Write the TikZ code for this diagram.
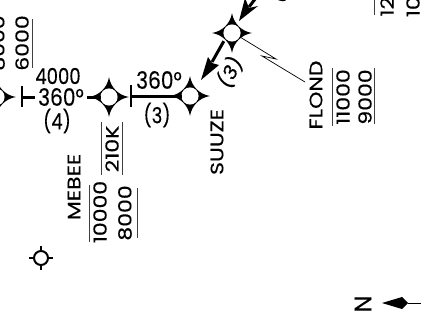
\documentclass[tikz,border=0pt]{standalone}
\usepackage{fontspec}
\newfontfamily\labfont{Poppins}[FakeBold=0.3]
\newcommand{\wpstar}[2]{%
  \begin{scope}[shift={(#1)}]
  \fill[black] (20,0) .. controls (9.5,1.7) and (1.7,9.5) .. (0,20) .. controls (-1.7,9.5) and (-9.5,1.7) .. (-20,0) .. controls (-9.5,-1.7) and (-1.7,-9.5) .. (0,-20) .. controls (1.7,-9.5) and (9.5,-1.7) .. (20,0) -- cycle;
  \fill[white] (0,0) circle (8.6);
  \end{scope}
  \node[inner sep=0pt,minimum size=16pt] (#2) at (#1) {};}
\tikzset{
  lab/.style={inner sep=0pt,font=\labfont\fontsize{22}{22}\selectfont,transform shape,xscale=.82},
  big/.style={inner sep=0pt,font=\labfont\fontsize{24}{24}\selectfont,transform shape,xscale=.84},
  labv/.style={lab,rotate=90},
  thin rule/.style={line width=0.8pt,draw=black!75},
  leg/.style={line width=3pt},
  tick/.style={line width=1.5pt},
  fixring/.style={line width=2pt}
}
\begin{document}
\begin{tikzpicture}[x=1pt,y=-1pt]
\useasboundingbox (0,0) rectangle (421,324);
\begin{scope}
\clip (0,0) rectangle (421,324);
% legs
\draw[tick] (22,86) -- (22,107);
\draw[tick] (131,85) -- (131,107);
\coordinate (legA) at (22,97);
\coordinate (legB) at (35,97);
\coordinate (legC) at (131,96);
\draw[leg] (legA) -- (legB);
\wpstar{-4,97}{w0}
\wpstar{109,97}{mebee}
\wpstar{190,96}{suuze}
\wpstar{232,33}{flond}
\draw[leg] (mebee.west) ++(-14,0) -- (mebee.west);
\draw[leg] (legC) -- (suuze.west);
% track arrows
\coordinate (tipA) at (201,80);
\coordinate (tipB) at (239,21);
\coordinate (topEnd) at (268,-18);
\draw[line width=3pt] (flond.south west) -- (212,62);
\fill (tipA) -- (208,57) -- (212,63) -- (219,65) -- cycle;
\draw[line width=3pt] (topEnd) -- (249,7);
\fill (tipB) -- (245,-2) -- (249,8) -- (258,6) -- cycle;
% leader
\coordinate (fl) at (305,82);
\draw[line width=0.7pt] (flond) ++(8,4) -- (276,59) -- (262,56) -- (fl);
% labels
\node[lab] (a1) at (58,76) {4000};
\node[big] (a2) at (61,97) {360°};
\node[lab] (a3) at (57,121) {(4)};
\node[big] (b1) at (159,80) {360°};
\node[lab] (b2) at (157,115) {(3)};
\node[lab,rotate=57] (c1) at (230,72) {(3)};
\node[lab,rotate=57] (c2) at (281,-14) {(3)};
\node[labv] at (22,43) {6000};
\node[labv] at (-2,43) {8000};
\draw[thin rule] (32,19) -- (32,68);
\node[labv] at (112,149) {210K};
\draw[thin rule] (101,122) -- (101,175);
\draw[thin rule] (122,122) -- (122,175);
\node[labv] at (217,142) {SUUZE};
\node[labv] at (74,187) {MEBEE};
\node[labv] at (100,212) {10000};
\node[labv] at (125,213) {8000};
\draw[thin rule] (89,185) -- (89,242);
\draw[thin rule] (137,188) -- (137,238);
\node[labv] at (316,95) {FLOND};
\node[labv] at (343,97) {11000};
\node[labv] at (365,97) {9000};
\draw[thin rule] (332,68) -- (332,126);
\draw[thin rule] (374,68) -- (374,124);
\node[labv] at (387,-14) {12000};
\node[labv] at (413,-14) {10000};
\draw[thin rule] (374,-30) -- (374,15);
% fix symbol
\draw[fixring] (41,258) circle (7);
\draw[fixring] (29,258) -- (34,258) (48,258) -- (53,258) (41,246) -- (41,251) (41,265) -- (41,270);
% north
\node[inner sep=0pt,font=\labfont\fontsize{24}{24}\selectfont,transform shape,rotate=90] (north) at (363,304) {N};
\coordinate (ntip) at (382,303);
\fill (ntip) -- (402,297) -- (408,303) -- (402,309) -- cycle;
\draw[line width=0.8pt] (408,303) -- (421,303);
\end{scope}
\end{tikzpicture}
\end{document}
